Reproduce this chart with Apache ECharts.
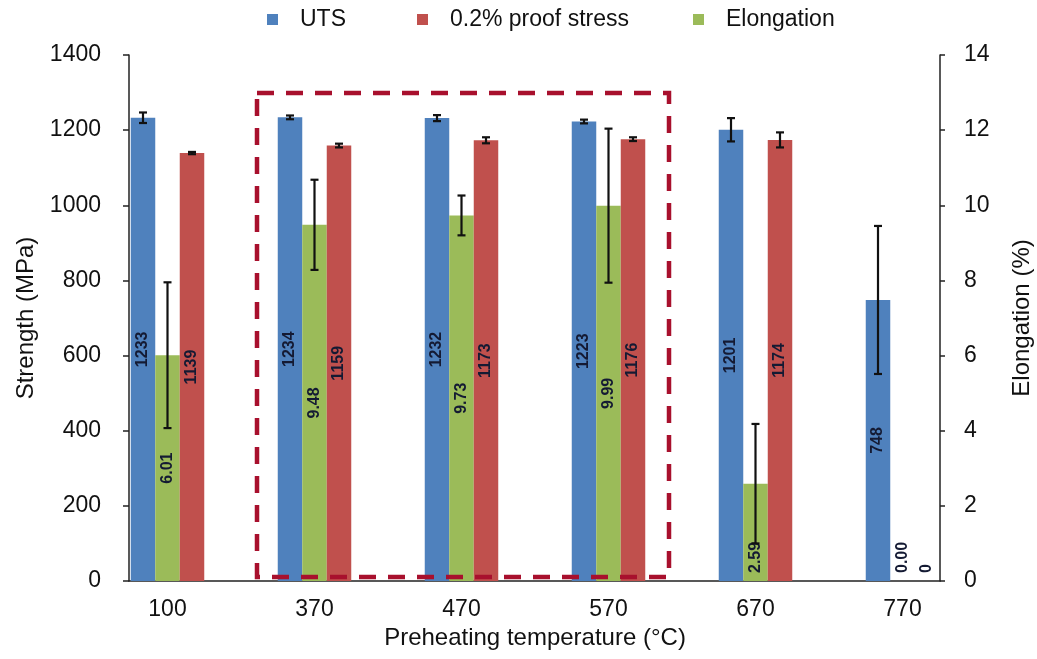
<!DOCTYPE html>
<html>
<head>
<meta charset="utf-8">
<script src="https://cdn.jsdelivr.net/npm/echarts@6/dist/echarts.min.js"></script>
<style>
html,body{margin:0;padding:0;background:#fff;}
#chart{width:1037px;height:659px;}
</style>
</head>
<body>
<div id="chart"></div>
<script>
// ---- data ----
const categories = ['100', '370', '470', '570', '670', '770'];
const utsValues = [1233, 1234, 1232, 1223, 1201, 748];
const utsErrors = [14, 5, 8, 5, 31, 197];
const proofValues = [1139, 1159, 1173, 1176, 1174, 0];
const proofErrors = [3, 5, 8, 5, 20, 0];
const elongValues = [6.01, 9.48, 9.73, 9.99, 2.59, 0.00];
const elongErrors = [1.94, 1.2, 0.53, 2.05, 1.59, 0];
const strengthTicks = [0, 1400, 200];   // min, max, interval
const elongTicks = [0, 14, 2];

const FONT = 'Liberation Sans';
const COLORS = {uts: '#4f81bd', proof: '#c0504d', elong: '#9bbb59'};

function labelFor(v, lowThreshold) {
  if (v <= lowThreshold) {
    return {position: 'insideBottom', align: 'left', verticalAlign: 'middle', distance: 8};
  }
  return undefined;
}
function barData(vals, lowThreshold) {
  return vals.map(v => {
    const l = labelFor(v, lowThreshold);
    return l ? {value: v, label: l} : {value: v};
  });
}
function errData(vals, errs) {
  return vals.map((v, i) => [i, v, errs[i]]);
}
function errorRenderer(slot) {
  return function (params, api) {
    const i = api.value(0), v = api.value(1), e = api.value(2);
    if (!e) return null;
    const band = api.size([1, 0])[0];
    const off = (slot - 1) * band / 6;
    const top = api.coord([i, v + e]);
    const bot = api.coord([i, v - e]);
    const x = top[0] + off;
    const cap = 4;
    const st = {stroke: '#111', lineWidth: 2.2};
    return {
      type: 'group',
      children: [
        {type: 'line', shape: {x1: x, y1: top[1], x2: x, y2: bot[1]}, style: st},
        {type: 'line', shape: {x1: x - cap, y1: top[1], x2: x + cap, y2: top[1]}, style: st},
        {type: 'line', shape: {x1: x - cap, y1: bot[1], x2: x + cap, y2: bot[1]}, style: st}
      ]
    };
  };
}

const labelBase = {
  show: true, position: 'inside', rotate: 90,
  fontFamily: FONT, fontWeight: 'bold', fontSize: 16, color: '#141a33'
};

const axisLineStyle = {color: '#222', width: 1.5};
const plain = v => String(v);

const chart = echarts.init(document.getElementById('chart'));
const legendText = {fontSize: 23, color: '#111', fontFamily: FONT, padding: [0, 0, 0, 17]};
const option = {
  backgroundColor: '#fff',
  animation: false,
  textStyle: {fontFamily: FONT},
  legend: [
    {data: ['UTS'], left: 267, top: 8, padding: 0, icon: 'rect', itemWidth: 11, itemHeight: 11, textStyle: legendText},
    {data: ['0.2% proof stress'], left: 417, top: 8, padding: 0, icon: 'rect', itemWidth: 11, itemHeight: 11, textStyle: legendText},
    {data: ['Elongation'], left: 693, top: 8, padding: 0, icon: 'rect', itemWidth: 11, itemHeight: 11, textStyle: legendText}
  ],
  grid: [
    {left: 94, right: 61, top: 55, bottom: 78, containLabel: false, outerBoundsMode: 'none'},
    {left: 129, right: 97, top: 55, bottom: 78, containLabel: false, outerBoundsMode: 'none'}
  ],
  xAxis: [
    {
      type: 'category', data: categories, gridIndex: 0,
      axisLine: {show: false}, axisTick: {show: false},
      axisLabel: {fontSize: 23, color: '#111', fontFamily: FONT, margin: 17},
      name: 'Preheating temperature (°C)', nameLocation: 'middle', nameGap: 45,
      nameTextStyle: {fontSize: 24, color: '#111', fontFamily: FONT}
    },
    {
      type: 'value', gridIndex: 1, min: 0, max: 1,
      axisLine: {show: true, lineStyle: axisLineStyle},
      axisTick: {show: false}, axisLabel: {show: false}, splitLine: {show: false}
    }
  ],
  yAxis: [
    {
      type: 'value', gridIndex: 0, position: 'left', offset: -35,
      min: strengthTicks[0], max: strengthTicks[1], interval: strengthTicks[2],
      axisLine: {show: true, lineStyle: axisLineStyle},
      axisTick: {show: true, inside: false, length: 6, lineStyle: axisLineStyle},
      axisLabel: {fontSize: 23, color: '#111', fontFamily: FONT, margin: 28, formatter: plain},
      splitLine: {show: false},
      name: 'Strength (MPa)', nameLocation: 'middle', nameRotate: 90, nameGap: 91,
      nameTextStyle: {fontSize: 24, color: '#111', fontFamily: FONT}
    },
    {
      type: 'value', gridIndex: 0, position: 'right', offset: -36,
      min: elongTicks[0], max: elongTicks[1], interval: elongTicks[2],
      axisLine: {show: true, lineStyle: axisLineStyle},
      axisTick: {show: true, inside: false, length: 5, lineStyle: axisLineStyle},
      axisLabel: {fontSize: 23, color: '#111', fontFamily: FONT, margin: 24, formatter: plain},
      splitLine: {show: false},
      name: 'Elongation (%)', nameLocation: 'middle', nameRotate: 90, nameGap: 70,
      nameTextStyle: {fontSize: 24, color: '#111', fontFamily: FONT}
    },
    {type: 'value', gridIndex: 1, show: false}
  ],
  series: [
    {
      name: 'UTS', type: 'bar', xAxisIndex: 0, yAxisIndex: 0,
      data: barData(utsValues, 0),
      itemStyle: {color: COLORS.uts},
      barCategoryGap: '50%', barGap: '0%',
      label: Object.assign({}, labelBase)
    },
    {
      name: 'Elongation', type: 'bar', xAxisIndex: 0, yAxisIndex: 1,
      data: barData(elongValues, 3),
      itemStyle: {color: COLORS.elong},
      barCategoryGap: '50%', barGap: '0%',
      label: Object.assign({}, labelBase, {formatter: p => Number(p.value).toFixed(2)})
    },
    {
      name: '0.2% proof stress', type: 'bar', xAxisIndex: 0, yAxisIndex: 0,
      data: barData(proofValues, 0),
      itemStyle: {color: COLORS.proof},
      barCategoryGap: '50%', barGap: '0%',
      label: Object.assign({}, labelBase)
    },
    {
      type: 'custom', xAxisIndex: 0, yAxisIndex: 0, z: 5,
      renderItem: errorRenderer(0), data: errData(utsValues, utsErrors),
      encode: {x: 0, y: 1}, silent: true
    },
    {
      type: 'custom', xAxisIndex: 0, yAxisIndex: 1, z: 5,
      renderItem: errorRenderer(1), data: errData(elongValues, elongErrors),
      encode: {x: 0, y: 1}, silent: true
    },
    {
      type: 'custom', xAxisIndex: 0, yAxisIndex: 0, z: 5,
      renderItem: errorRenderer(2), data: errData(proofValues, proofErrors),
      encode: {x: 0, y: 1}, silent: true
    }
  ],
  graphic: [
    {
      type: 'rect', z: 10, silent: true,
      shape: {x: 257, y: 93, width: 412, height: 484},
      style: {fill: 'none', stroke: '#a8102d', lineWidth: 4.5, lineDash: [17, 12]}
    }
  ]
};
chart.setOption(option);
</script>
</body>
</html>
